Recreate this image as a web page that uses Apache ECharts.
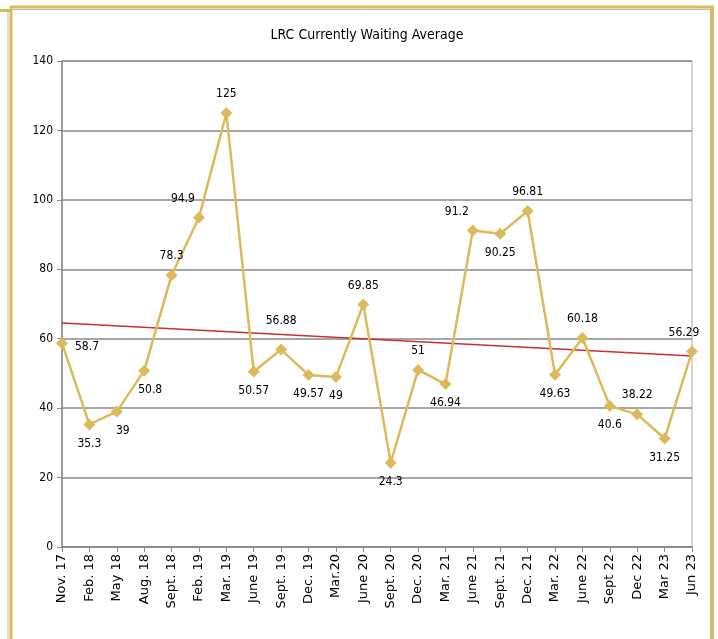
<!DOCTYPE html>
<html>
<head>
<meta charset="utf-8">
<script src="https://cdn.jsdelivr.net/npm/echarts@6/dist/echarts.min.js"></script>
<style>
html,body{margin:0;padding:0;background:#fff;}
#chart{width:718px;height:639px;}
</style>
</head>
<body>
<div id="chart"></div>
<script>
var categories = ["Nov. 17","Feb. 18","May 18","Aug. 18","Sept. 18","Feb. 19","Mar. 19","June 19","Sept. 19","Dec. 19","Mar.20","June 20","Sept. 20","Dec. 20","Mar. 21","June 21","Sept. 21","Dec. 21","Mar. 22","June 22","Sept 22","Dec 22","Mar 23","Jun 23"];
var waiting = [58.7,35.3,39,50.8,78.3,94.9,125,50.57,56.88,49.57,49,69.85,24.3,51,46.94,91.2,90.25,96.81,49.63,60.18,40.6,38.22,31.25,56.29];
var labelPos = ["right","bottom","bottom","bottom","top","left","top","bottom","top","bottom","bottom","top","bottom","top","bottom","left","bottom","top","bottom","top","bottom","top","bottom","top"];
var trendStart = 64.54;
var trendEnd = 55.0;
var yTicks = [0,20,40,60,80,100,120,140];

var gold = '#DCBA5C';
var narrowFamily = '"Liberation Sans Narrow","DejaVu Sans Condensed","DejaVu Sans",sans-serif';
var narrowWeight = 'normal condensed';

var seriesData = waiting.map(function(v,i){
  var p = labelPos[i];
  var lbl = {position: p};
  if (p === 'left') { lbl.position = 'top'; lbl.offset = [-16, 0]; }
  if (i === categories.length-1) { lbl.position = 'top'; lbl.offset = [-8, 0]; }
  if (i === 0) { lbl.offset = [0, 4]; }
  if (i === 3 || i === 2) { lbl.offset = [6, 0]; }
  if (i === 8) { lbl.offset = [0, -10]; }
  return {value: v, label: lbl};
});

var trendData = categories.map(function(c,i){
  if (i === 0) return trendStart;
  if (i === categories.length-1) return trendEnd;
  return null;
});

var chart = echarts.init(document.getElementById('chart'), null, {renderer:'canvas'});
chart.setOption({
  animation:false,
  backgroundColor:'#fff',
  title:{
    text:'LRC Currently Waiting Average',
    left:362, top:23, textAlign:'center',
    textStyle:{fontFamily:narrowFamily, fontSize:14, fontWeight:narrowWeight, color:'#000'}
  },
  grid:{left:62, right:26, top:61, bottom:92, show:true, borderColor:'#aaa', borderWidth:1},
  xAxis:{
    type:'category', data:categories, boundaryGap:false,
    axisLine:{lineStyle:{color:'#888', width:1.5}},
    axisTick:{show:true, length:5, lineStyle:{color:'#888'}},
    axisLabel:{rotate:90, interval:0, margin:7, color:'#000', fontFamily:'"DejaVu Sans",sans-serif', fontSize:13}
  },
  yAxis:{
    type:'value', min:yTicks[0], max:yTicks[yTicks.length-1], interval:20,
    axisLine:{show:true, lineStyle:{color:'#888', width:1.5}},
    axisTick:{show:true, length:5, lineStyle:{color:'#888'}},
    axisLabel:{margin:9, color:'#000', fontFamily:narrowFamily, fontWeight:narrowWeight, fontSize:12},
    splitLine:{lineStyle:{color:'#888', width:1.5}}
  },
  series:[
    {
      type:'line', data:trendData, connectNulls:true, symbol:'none', z:1,
      lineStyle:{color:'#C8322F', width:1.5}
    },
    {
      type:'line', data:seriesData, symbol:'diamond', symbolSize:12, z:3,
      lineStyle:{color:gold, width:2.5}, itemStyle:{color:gold},
      label:{show:true, color:'#000', fontFamily:narrowFamily, fontWeight:narrowWeight, fontSize:12, distance:7}
    }
  ],
  graphic:[
    {type:'line', shape:{x1:10, y1:7, x2:714, y2:7}, style:{stroke:gold, lineWidth:3}},
    {type:'line', shape:{x1:12, y1:9.5, x2:711, y2:9.5}, style:{stroke:'#bbb', lineWidth:1}},
    {type:'line', shape:{x1:11, y1:6, x2:11, y2:639}, style:{stroke:gold, lineWidth:3}},
    {type:'line', shape:{x1:0, y1:10.5, x2:10, y2:10.5}, style:{stroke:gold, lineWidth:3}},
    {type:'line', shape:{x1:8, y1:12, x2:8, y2:639}, style:{stroke:'#bbb', lineWidth:1}},
    {type:'line', shape:{x1:712.5, y1:6, x2:712.5, y2:639}, style:{stroke:gold, lineWidth:3}},
    {type:'line', shape:{x1:710.5, y1:10, x2:710.5, y2:639}, style:{stroke:'#bbb', lineWidth:1}}
  ]
});
</script>
</body>
</html>
